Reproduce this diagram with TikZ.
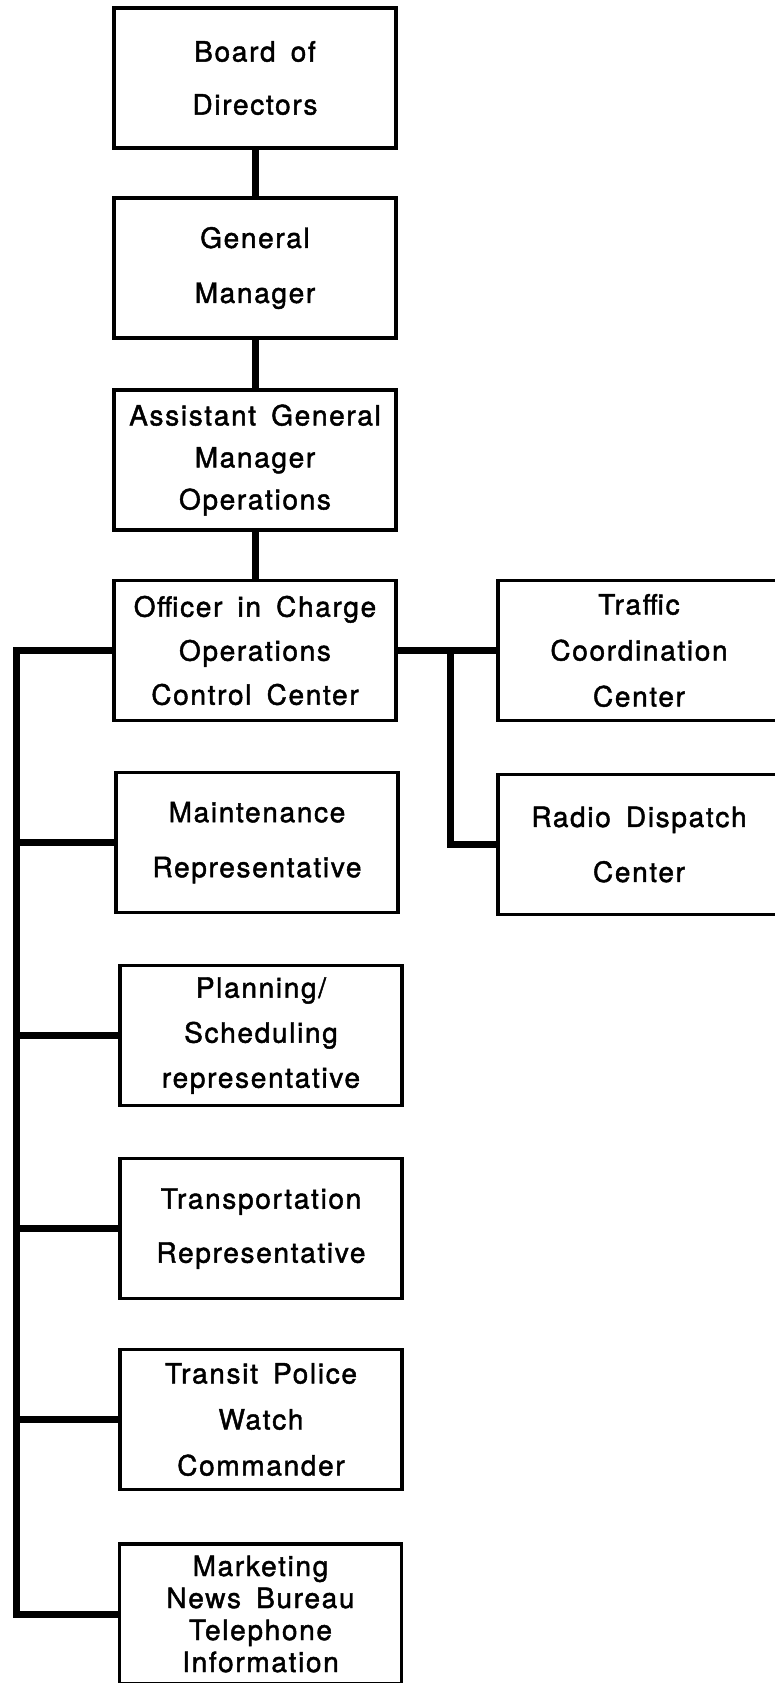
\documentclass[tikz,border=0pt]{standalone}
\usepackage{fontspec}
\setmainfont{TeX Gyre Heros}[LetterSpace=6,WordSpace=1.6,FakeBold=1.6]

\begin{document}
\begin{tikzpicture}[x=0.5pt,y=-0.5pt,
  box/.style={draw,line width=1.85pt,minimum width=141pt,minimum height=70pt,align=center,inner sep=0pt},
  boxlead/.style={font=\fontsize{14}{#1}\selectfont},
  link/.style={line width=3.5pt}]
                      \useasboundingbox (0,0) rectangle (775,1683);
                      \node[box,boxlead=26.5pt] (bod) at (255,78) {Board of\\Directors};
                      \node[box,boxlead=27.5pt] (gm) at (255,268) {General\\Manager};
                      \node[box,boxlead=21pt] (agm) at (255,460) {Assistant General\\Manager\\Operations};
                      \node[box,boxlead=22pt] (occ) at (255,650.5) {Officer in Charge\\Operations\\Control Center};

                      \node[box,boxlead=23pt] (tcc) at (639,650.5) {Traffic\\Coordination\\Center};
                      \node[box,boxlead=27.5pt] (rdc) at (639,844.5) {Radio Dispatch\\Center};

                      \node[box,boxlead=27.5pt] (mnt) at (257,842.5) {Maintenance\\Representative};
                      \node[box,boxlead=22.5pt] (pln) at (261,1035.5) {Planning/\\Scheduling\\representative};
                      \node[box,boxlead=27pt] (trn) at (261,1228.5) {Transportation\\Representative};
                      \node[box,boxlead=23pt] (tpw) at (261,1419.5) {Transit Police\\Watch\\Commander};
                      \node[box,boxlead=16pt] (mkt) at (260.5,1614) {Marketing\\News Bureau\\Telephone\\Information};

                      \coordinate (bustop) at (16,650.5);
                      \coordinate (busend) at (16,1614);
                      \coordinate (fork) at (450,650.5);

                      \draw[link] (bod) -- (gm);
                      \draw[link] (gm) -- (agm);
                      \draw[link] (agm) -- (occ);
                      \draw[link] (occ.east) -- (tcc.west);
                      \draw[link] (fork) |- (rdc.west);
                      \draw[link] (occ.west) -- (bustop) -- (busend) -- (mkt.west);
                      \foreach \n in {mnt,pln,trn,tpw}
                        \draw[link] (\n.west) -- (\n.west -| bustop);
                    \end{tikzpicture}
\end{document}
